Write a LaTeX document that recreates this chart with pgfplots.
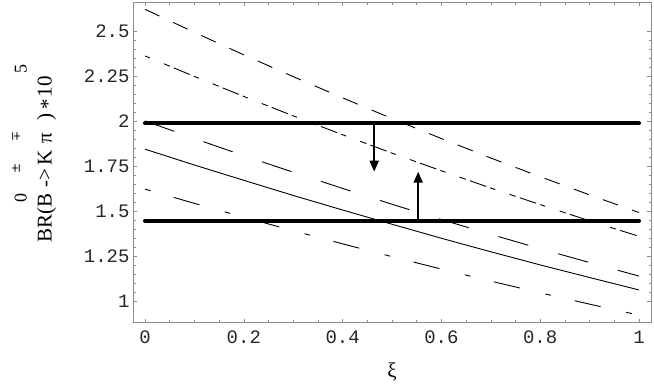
\documentclass[border=0pt]{standalone}
\usepackage{fontspec}
\setmainfont{Liberation Serif}
\newfontfamily\monofont{Liberation Mono}
\newfontfamily\dvs{DejaVu Serif}
\usepackage{pgfplots}
\pgfplotsset{compat=1.18}
\usetikzlibrary{arrows.meta}

\pgfplotstableread{
x     A      B      C      D      E
0.0   2.624  2.365  2.004  1.847  1.625
0.1   2.496  2.251  1.906  1.759  1.546
0.2   2.371  2.140  1.811  1.674  1.469
0.3   2.250  2.032  1.719  1.590  1.394
0.4   2.132  1.927  1.629  1.509  1.321
0.5   2.017  1.825  1.541  1.430  1.250
0.6   1.906  1.727  1.456  1.352  1.181
0.7   1.798  1.631  1.374  1.277  1.114
0.8   1.694  1.539  1.294  1.204  1.049
0.9   1.593  1.449  1.217  1.134  0.986
1.0   1.495  1.363  1.142  1.065  0.925
}\curves

\begin{document}
\begin{tikzpicture}
\begin{axis}[
  scale only axis, width=518pt, height=320.4pt,
  at={(133pt,64.3pt)}, anchor=south west,
  xmin=-0.0243, xmax=1.0243, ymin=0.883, ymax=2.663,
  axis line style={black!45, line width=0.8pt},
  tick style={black!45, line width=0.6pt},
  major tick length=4pt, minor tick length=2.5pt,
  tick align=inside,
  xtick={0,0.2,0.4,0.6,0.8,1}, xticklabels={0,0.2,0.4,0.6,0.8,1},
  ytick={1,1.25,1.5,1.75,2,2.25,2.5}, yticklabels={1,1.25,1.5,1.75,2,2.25,2.5},
  minor x tick num=3, minor y tick num=4,
  ticklabel style={font=\monofont\fontsize{19}{19}\selectfont, text=black!85},
  xticklabel style={yshift=-5pt},
  xlabel={ξ},
  xlabel style={at={(rel axis cs:0.5,-0.154)}, anchor=center, font=\fontsize{21}{21}\selectfont},
  clip=false,
]
\addplot[black, line width=0.9pt, dash pattern=on 16pt off 15pt] table[x=x,y=A] {\curves};
\addplot[black, line width=0.9pt, dash pattern=on 5.4pt off 15pt on 6.5pt off 4.3pt on 17.3pt off 4.3pt] table[x=x,y=B] {\curves};
\addplot[black, line width=0.9pt, dash pattern=on 31pt off 31pt] table[x=x,y=C] {\curves};
\addplot[black, line width=0.9pt] table[x=x,y=D] {\curves};
\addplot[black, line width=0.9pt, dash pattern=on 5.7pt off 24.3pt on 26.6pt off 26.2pt] table[x=x,y=E] {\curves};
\addplot[black, line width=4pt, line cap=round] coordinates {(0,1.99) (1,1.99)};
\addplot[black, line width=4pt, line cap=round] coordinates {(0,1.45) (1,1.45)};
\addplot[black, line width=2pt, -{Triangle[length=11pt,width=9pt]}] coordinates {(0.464,1.99) (0.464,1.722)};
\addplot[black, line width=2pt, -{Triangle[length=11pt,width=9pt]}] coordinates {(0.553,1.45) (0.553,1.722)};
\end{axis}
% y-axis label, set piece by piece along a vertical baseline
\begin{scope}[every node/.style={rotate=90, anchor=base, inner sep=0pt}]
\node[font=\fontsize{21}{21}\selectfont] at (51.7pt,168.7pt) {BR(B};
\node[font=\fontsize{18}{18}\selectfont] at (26.7pt,188.7pt) {0};
\node[font=\fontsize{21}{21}\selectfont] at (51.7pt,208.7pt) {->};
\node[font=\fontsize{21}{21}\selectfont] at (51.7pt,229.5pt) {K};
\node[font=\dvs\fontsize{12}{12}\selectfont] at (20pt,219pt) {±};
\node[font=\fontsize{21}{21}\selectfont] at (51.7pt,249pt) {π};
\node[font=\dvs\fontsize{12}{12}\selectfont] at (20pt,250.3pt) {∓};
\node[font=\fontsize{21}{21}\selectfont] at (51.7pt,269.5pt) {)};
\node[font=\fontsize{21}{21}\selectfont] at (54.7pt,282.8pt) {*};
\node[font=\fontsize{21}{21}\selectfont] at (51.7pt,300.3pt) {10};
\node[font=\fontsize{18}{18}\selectfont] at (26.7pt,317.8pt) {5};
\end{scope}
\pgfresetboundingbox
\path (0,0) rectangle (654pt,387pt);
\end{tikzpicture}
\end{document}
